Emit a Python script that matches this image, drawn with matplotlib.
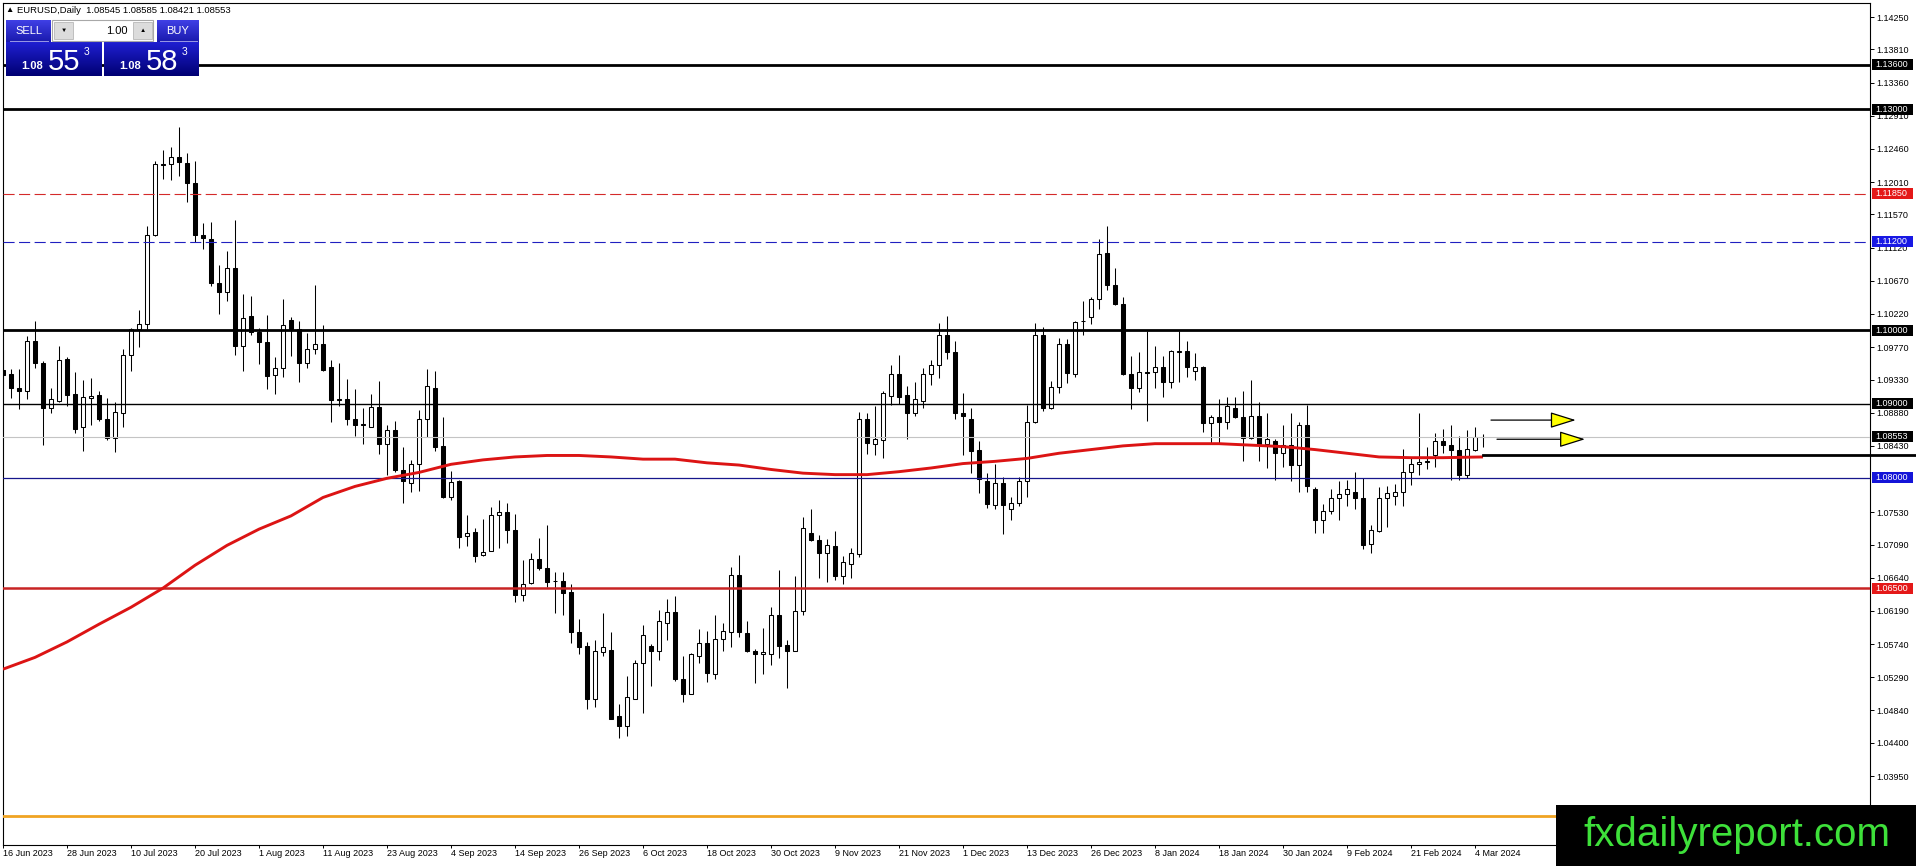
import numpy as np
import matplotlib
matplotlib.use('Agg')
from matplotlib import pyplot as plt
from matplotlib.patches import Rectangle

plt.rcParams['font.family'] = ['Liberation Sans', 'DejaVu Sans']

W, H = 1916, 866

# daily EURUSD bars, 16 Jun 2023 .. 5 Mar 2024
opens = [1.0946, 1.0940, 1.0922, 1.0917, 1.0986, 1.0956, 1.0895, 1.0904, 1.0961, 1.0913,
         1.0868, 1.0908, 1.0912, 1.0879, 1.0854, 1.0888, 1.0966, 1.1002, 1.1009, 1.1129,
         1.1225, 1.1226, 1.1235, 1.1227, 1.1200, 1.1129, 1.1124, 1.1064, 1.1052, 1.1085,
         1.0978, 1.1019, 1.0997, 1.0984, 1.0939, 1.0949, 1.1014, 1.1001, 1.0956, 1.0975,
         1.0981, 1.0950, 1.0907, 1.0907, 1.0879, 1.0873, 1.0868, 1.0896, 1.0846, 1.0864,
         1.0810, 1.0793, 1.0818, 1.0880, 1.0922, 1.0843, 1.0774, 1.0795, 1.0721, 1.0726,
         1.0695, 1.0701, 1.0749, 1.0753, 1.0729, 1.0641, 1.0657, 1.0690, 1.0677, 1.0660,
         1.0660, 1.0645, 1.0591, 1.0571, 1.0500, 1.0563, 1.0566, 1.0476, 1.0463, 1.0500,
         1.0548, 1.0571, 1.0564, 1.0603, 1.0618, 1.0526, 1.0506, 1.0558, 1.0576, 1.0533,
         1.0581, 1.0590, 1.0668, 1.0589, 1.0564, 1.0560, 1.0561, 1.0614, 1.0573, 1.0565,
         1.0619, 1.0725, 1.0715, 1.0698, 1.0707, 1.0667, 1.0683, 1.0696, 1.0879, 1.0846,
         1.0851, 1.0911, 1.0940, 1.0912, 1.0887, 1.0904, 1.0941, 1.0953, 1.0993, 1.0970,
         1.0887, 1.0880, 1.0837, 1.0796, 1.0763, 1.0792, 1.0758, 1.0765, 1.0795, 1.0875,
         1.0993, 1.0895, 1.0923, 1.0981, 1.0941, 1.1013, 1.1018, 1.1042, 1.1105, 1.1062,
         1.1036, 1.0941, 1.0921, 1.0943, 1.0943, 1.0950, 1.0930, 1.0971, 1.0972, 1.0945,
         1.0950, 1.0874, 1.0882, 1.0875, 1.0894, 1.0882, 1.0854, 1.0883, 1.0846, 1.0849,
         1.0834, 1.0844, 1.0817, 1.0871, 1.0785, 1.0743, 1.0755, 1.0772, 1.0778, 1.0781,
         1.0772, 1.0710, 1.0727, 1.0772, 1.0775, 1.0780, 1.0807, 1.0818, 1.0821, 1.0831,
         1.0849, 1.0844, 1.0838, 1.0804, 1.0837, 1.08545]
highs = [1.0972, 1.0947, 1.0947, 1.0992, 1.1012, 1.0958, 1.0921, 1.0978, 1.0963, 1.0943,
         1.0933, 1.0935, 1.0917, 1.0908, 1.0902, 1.0974, 1.1003, 1.1028, 1.1141, 1.1229,
         1.1245, 1.1249, 1.1276, 1.1241, 1.1230, 1.1146, 1.1147, 1.1088, 1.1107, 1.1150,
         1.1049, 1.1047, 1.1003, 1.1021, 1.0963, 1.1043, 1.1018, 1.1012, 1.0996, 1.1062,
         1.1007, 1.0960, 1.0955, 1.0934, 1.0920, 1.0895, 1.0914, 1.0931, 1.0872, 1.0877,
         1.0841, 1.0824, 1.0892, 1.0947, 1.0944, 1.0882, 1.0809, 1.0797, 1.0749, 1.0731,
         1.0744, 1.0760, 1.0770, 1.0766, 1.0751, 1.0688, 1.0698, 1.0718, 1.0736, 1.0672,
         1.0672, 1.0655, 1.0608, 1.0577, 1.0579, 1.0616, 1.0591, 1.0493, 1.0531, 1.0553,
         1.0600, 1.0574, 1.0620, 1.0635, 1.0639, 1.0558, 1.0562, 1.0594, 1.0592, 1.0613,
         1.0603, 1.0679, 1.0695, 1.0606, 1.0568, 1.0596, 1.0625, 1.0674, 1.0579, 1.0667,
         1.0747, 1.0757, 1.0722, 1.0717, 1.0727, 1.0693, 1.0705, 1.0889, 1.0888, 1.0897,
         1.0918, 1.0953, 1.0966, 1.0924, 1.0930, 1.0949, 1.0960, 1.1010, 1.1019, 1.0985,
         1.0915, 1.0895, 1.0850, 1.0806, 1.0818, 1.0801, 1.0773, 1.0801, 1.0898, 1.1010,
         1.1005, 1.0931, 1.0989, 1.0988, 1.1012, 1.1040, 1.1045, 1.1124, 1.1141, 1.1085,
         1.1045, 1.0965, 1.0971, 1.0999, 1.0978, 1.0965, 1.0973, 1.0999, 1.0986, 1.0969,
         1.0951, 1.0885, 1.0907, 1.0910, 1.0910, 1.0917, 1.0933, 1.0903, 1.0887, 1.0853,
         1.0872, 1.0888, 1.0876, 1.0898, 1.0787, 1.0764, 1.0785, 1.0796, 1.0797, 1.0807,
         1.0800, 1.0736, 1.0787, 1.0789, 1.0791, 1.0839, 1.0826, 1.0888, 1.0841, 1.0861,
         1.0866, 1.0871, 1.0856, 1.0864, 1.0868, 1.08585]
lows = [1.0920, 1.0908, 1.0893, 1.0906, 1.0949, 1.0844, 1.0888, 1.0903, 1.0897, 1.0861,
        1.0836, 1.0871, 1.0877, 1.0851, 1.0835, 1.0868, 1.0944, 1.0977, 1.1001, 1.1128,
        1.1205, 1.1204, 1.1209, 1.1174, 1.1119, 1.1110, 1.1060, 1.1022, 1.1039, 1.0967,
        1.0944, 1.0994, 1.0954, 1.0920, 1.0913, 1.0936, 1.0965, 1.0930, 1.0949, 1.0968,
        1.0944, 1.0876, 1.0897, 1.0871, 1.0856, 1.0846, 1.0868, 1.0832, 1.0803, 1.0807,
        1.0766, 1.0781, 1.0782, 1.0855, 1.0836, 1.0772, 1.0770, 1.0705, 1.0707, 1.0686,
        1.0694, 1.0700, 1.0705, 1.0711, 1.0631, 1.0633, 1.0655, 1.0675, 1.0651, 1.0616,
        1.0613, 1.0575, 1.0561, 1.0486, 1.0489, 1.0558, 1.0472, 1.0447, 1.0449, 1.0499,
        1.0481, 1.0517, 1.0553, 1.0579, 1.0524, 1.0495, 1.0506, 1.0548, 1.0522, 1.0527,
        1.0564, 1.0570, 1.0583, 1.0563, 1.0521, 1.0533, 1.0546, 1.0555, 1.0514, 1.0564,
        1.0614, 1.0714, 1.0664, 1.0658, 1.0661, 1.0656, 1.0664, 1.0692, 1.0832, 1.0830,
        1.0826, 1.0899, 1.0900, 1.0853, 1.0884, 1.0895, 1.0926, 1.0935, 1.0961, 1.0880,
        1.0830, 1.0806, 1.0779, 1.0759, 1.0757, 1.0724, 1.0743, 1.0761, 1.0774, 1.0874,
        1.0891, 1.0893, 1.0915, 1.0929, 1.0936, 1.0994, 1.1008, 1.1029, 1.1055, 1.1034,
        1.0939, 1.0893, 1.0916, 1.0877, 1.0921, 1.0910, 1.0922, 1.0930, 1.0937, 1.0933,
        1.0862, 1.0847, 1.0847, 1.0866, 1.0881, 1.0823, 1.0853, 1.0823, 1.0813, 1.0797,
        1.0814, 1.0796, 1.0781, 1.0781, 1.0725, 1.0725, 1.0751, 1.0743, 1.0762, 1.0758,
        1.0703, 1.0697, 1.0726, 1.0733, 1.0763, 1.0762, 1.0790, 1.0804, 1.0811, 1.0814,
        1.0834, 1.0797, 1.0797, 1.0799, 1.0836, 1.08421]
closes = [1.0939, 1.0922, 1.0917, 1.0986, 1.0956, 1.0894, 1.0906, 1.0960, 1.0912, 1.0866,
          1.0910, 1.0911, 1.0879, 1.0854, 1.0889, 1.0967, 1.1001, 1.1009, 1.1129, 1.1226,
          1.1224, 1.1235, 1.1228, 1.1200, 1.1129, 1.1125, 1.1064, 1.1052, 1.1085, 1.0978,
          1.1017, 1.0997, 1.0984, 1.0938, 1.0949, 1.1007, 1.1002, 1.0956, 1.0974, 1.0981,
          1.0946, 1.0905, 1.0905, 1.0879, 1.0871, 1.0872, 1.0896, 1.0845, 1.0864, 1.0810,
          1.0795, 1.0818, 1.0880, 1.0924, 1.0842, 1.0774, 1.0794, 1.0720, 1.0725, 1.0694,
          1.0699, 1.0749, 1.0753, 1.0729, 1.0641, 1.0656, 1.0690, 1.0677, 1.0658, 1.0659,
          1.0644, 1.0591, 1.0570, 1.0500, 1.0564, 1.0570, 1.0473, 1.0463, 1.0502, 1.0549,
          1.0586, 1.0565, 1.0605, 1.0618, 1.0526, 1.0506, 1.0560, 1.0576, 1.0535, 1.0581,
          1.0592, 1.0668, 1.0590, 1.0564, 1.0560, 1.0563, 1.0614, 1.0572, 1.0565, 1.0619,
          1.0731, 1.0715, 1.0698, 1.0708, 1.0666, 1.0685, 1.0697, 1.0879, 1.0847, 1.0852,
          1.0915, 1.0940, 1.0909, 1.0888, 1.0906, 1.0940, 1.0953, 1.0993, 1.0970, 1.0888,
          1.0883, 1.0836, 1.0798, 1.0764, 1.0793, 1.0763, 1.0765, 1.0795, 1.0875, 1.0993,
          1.0895, 1.0923, 1.0981, 1.0942, 1.1011, 1.1012, 1.1042, 1.1104, 1.1061, 1.1035,
          1.0941, 1.0921, 1.0943, 1.0942, 1.0950, 1.0930, 1.0972, 1.0972, 1.0950, 1.0950,
          1.0874, 1.0882, 1.0875, 1.0897, 1.0882, 1.0854, 1.0883, 1.0845, 1.0853, 1.0834,
          1.0844, 1.0817, 1.0871, 1.0788, 1.0743, 1.0755, 1.0772, 1.0778, 1.0785, 1.0772,
          1.0709, 1.0729, 1.0772, 1.0779, 1.0780, 1.0808, 1.0819, 1.0821, 1.0822, 1.0849,
          1.0844, 1.0838, 1.0804, 1.0839, 1.0855, 1.08553]

# moving average (red curve), sampled every few bars
ma_idx = [0, 4, 8, 12, 16, 20, 24, 28, 32, 36, 40, 44, 48, 52, 56, 60, 64, 68, 72, 76,
          80, 84, 88, 92, 96, 100, 104, 108, 112, 116, 120, 124, 128, 132, 136, 140,
          144, 148, 152, 156, 160, 164, 168, 172, 176, 180, 185]
ma_val = [1.0540, 1.0556, 1.0577, 1.0601, 1.0624, 1.0650, 1.0681, 1.0708, 1.0730, 1.0748,
          1.0773, 1.0788, 1.0799, 1.0807, 1.0818, 1.0824, 1.0828, 1.0830, 1.0830, 1.0828,
          1.0825, 1.0825, 1.0820, 1.0817, 1.0811, 1.0806, 1.0804, 1.0804, 1.0808, 1.0813,
          1.0819, 1.0822, 1.0826, 1.0833, 1.0838, 1.0843, 1.0846, 1.0846, 1.0846, 1.0844,
          1.0842, 1.0838, 1.0833, 1.0828, 1.0827, 1.0827, 1.0828]

date_labels = ['16 Jun 2023', '28 Jun 2023', '10 Jul 2023', '20 Jul 2023', '1 Aug 2023',
               '11 Aug 2023', '23 Aug 2023', '4 Sep 2023', '14 Sep 2023', '26 Sep 2023',
               '6 Oct 2023', '18 Oct 2023', '30 Oct 2023', '9 Nov 2023', '21 Nov 2023',
               '1 Dec 2023', '13 Dec 2023', '26 Dec 2023', '8 Jan 2024', '18 Jan 2024',
               '30 Jan 2024', '9 Feb 2024', '21 Feb 2024', '4 Mar 2024']
date_idx = list(range(0, 8 * len(date_labels), 8))

ytick_vals = [1.14250, 1.13810, 1.13360, 1.12910, 1.12460, 1.12010, 1.11570, 1.11120,
              1.10670, 1.10220, 1.09770, 1.09330, 1.08880, 1.08430, 1.07530, 1.07090,
              1.06640, 1.06190, 1.05740, 1.05290, 1.04840, 1.04400, 1.03950]

# horizontal levels
level_prices = [1.13600, 1.13000, 1.11850, 1.11200, 1.10000, 1.09000, 1.08553, 1.08000, 1.06500, 1.03405]
level_colors = ['black', 'black', '#d42a2a', '#2020c0', 'black', 'black', '#c4c4c4', '#16168c', '#c82424', '#f0a422']
level_widths = [2.0, 2.0, 0.8, 0.8, 2.0, 1.0, 0.8, 0.9, 1.8, 2.0]
level_dashed = [False, False, True, True, False, False, False, False, False, False]
label_bg = ['black', 'black', '#e41818', '#1818e4', 'black', 'black', 'black', '#1414d8', '#e41818', None]

support_price = 1.0831
support_from = 185

arrow_prices = [1.0878, 1.0852]
arrow_start = [186.0, 186.75]
arrow_end = [196.6, 197.75]

bid, ask = 1.08553, 1.08583

fig = plt.figure(figsize=(W / 100, H / 100), dpi=100)
fig.patch.set_facecolor('white')
ax = fig.add_axes([3 / W, 21 / H, 1867 / W, 842 / H])
ax.set_xlim(0, 1867 / 8)
ax.set_ylim(1.03014, 1.14440)

idx = np.arange(len(opens))
o = np.array(opens)
c = np.array(closes)
bull = c >= o
ax.vlines(idx, lows, highs, color='black', lw=0.75, zorder=2)
ax.bar(idx, np.maximum(np.abs(c - o), 0.00003), bottom=np.minimum(o, c), width=0.55,
       color=np.where(bull, 'white', 'black'), edgecolor='black', lw=0.75, zorder=3)

for p, col, lw, dsh in zip(level_prices, level_colors, level_widths, level_dashed):
    ax.axhline(p, color=col, lw=lw, ls=(0, (10, 4)) if dsh else '-', zorder=4)

ax.plot(ma_idx, ma_val, color='#dc1414', lw=2.1, zorder=5, solid_capstyle='butt')

for p, x0, x1 in zip(arrow_prices, arrow_start, arrow_end):
    ax.annotate('', xy=(x1, p), xytext=(x0, p), annotation_clip=False,
                arrowprops=dict(arrowstyle='-|>,head_length=0.8,head_width=0.25',
                                fc='yellow', ec='black', lw=0.9, mutation_scale=20,
                                shrinkA=0, shrinkB=0), zorder=6)

ax.yaxis.tick_right()
ax.set_yticks(ytick_vals, [f'{v:.5f}' for v in ytick_vals])
ax.set_xticks(date_idx, date_labels)
for t in ax.get_xticklabels():
    t.set_ha('left')
ax.tick_params(axis='y', direction='out', length=2.9, width=0.7, pad=1.5, labelsize=6.5)
ax.tick_params(axis='x', direction='out', length=2.2, width=0.7, pad=1.0, labelsize=6.5)
for s in ax.spines.values():
    s.set_color('black')
    s.set_linewidth(0.8)

# overlay in pixel coordinates for the terminal decorations
ov = fig.add_axes([0, 0, 1, 1], zorder=5)
ov.patch.set_alpha(0)
ov.axis('off')


def to_px(x, p):
    dx, dy = ax.transData.transform((x, p))
    return dx, H - dy


# level price tags on the scale
for p, bg in zip(level_prices, label_bg):
    if bg is None:
        continue
    _, py = to_px(0, p)
    ov.add_patch(Rectangle((1872, py - 5.5), 41, 11, fc=bg, ec='none', zorder=3))
    ov.text(1875.5, py, f'{p:.5f}', color='white', fontsize=6.5, va='center', ha='left', zorder=4)

# support line running through the price scale
sx, sy = to_px(support_from, support_price)
ov.plot([sx, W], [sy, sy], color='black', lw=2.0, zorder=2)


def grad_box(x0, y0, x1, y1, top, bottom):
    t = np.linspace(0, 1, 40)[:, None, None]
    img = (1 - t) * np.array(top) + t * np.array(bottom)
    ov.imshow(img, extent=(x0, x1, y1, y0), aspect='auto', interpolation='bilinear', zorder=2)


tab_top, tab_bot = (0.25, 0.25, 0.90), (0.10, 0.10, 0.68)
box_top, box_bot = (0.12, 0.12, 0.82), (0.0, 0.0, 0.45)
grad_box(6, 20, 51, 42, tab_top, tab_bot)
grad_box(157, 20, 199, 42, tab_top, tab_bot)
grad_box(6, 42, 102, 76, box_top, box_bot)
grad_box(104, 42, 199, 76, box_top, box_bot)
ov.add_patch(Rectangle((52, 20), 101, 21, fc='white', ec='#a8a8a8', lw=0.8, zorder=3))
ov.add_patch(Rectangle((54, 22), 19, 17, fc='#dcdcdc', ec='#b8b8b8', lw=0.6, zorder=4))
ov.add_patch(Rectangle((133, 22), 19, 17, fc='#dcdcdc', ec='#b8b8b8', lw=0.6, zorder=4))
ov.text(63.5, 30.5, '▼', fontsize=4.5, ha='center', va='center', zorder=5)
ov.text(142.5, 30.5, '▲', fontsize=4.5, ha='center', va='center', zorder=5)
ov.text(128, 30.5, '1.00', fontsize=8, ha='right', va='center', zorder=5)
ov.plot([10, 48], [41.3, 41.3], color='#9a9ae6', lw=0.7, zorder=4)
ov.plot([160, 197], [41.3, 41.3], color='#9a9ae6', lw=0.7, zorder=4)
ov.text(28.5, 31, 'SELL', color='white', fontsize=8, ha='center', va='center', zorder=5)
ov.text(178, 31, 'BUY', color='white', fontsize=8, ha='center', va='center', zorder=5)
for x0, price in [(6, bid), (104, ask)]:
    s = f'{price:.5f}'
    ov.text(x0 + 26, 66, s[:4], color='white', fontsize=8, fontweight='bold',
            ha='center', va='center', zorder=5)
    ov.text(x0 + 58.5, 61.5, s[4:6], color='white', fontsize=21, ha='center', va='center', zorder=5)
    ov.text(x0 + 80.5, 52, s[6], color='white', fontsize=7.5, ha='center', va='center', zorder=5)

ov.text(5.5, 10.5, '▲', fontsize=6, ha='left', va='center', zorder=5)
ov.text(17, 10.5, f'EURUSD,Daily  {opens[-1]:.5f} {highs[-1]:.5f} {lows[-1]:.5f} {closes[-1]:.5f}',
        fontsize=6.8, ha='left', va='center', zorder=5)

# watermark
ov.add_patch(Rectangle((1556, 805), W - 1556, H - 805, fc='black', ec='none', zorder=6))
ov.text(1737, 835, 'fxdailyreport.com', color='#3ee03a', fontsize=29, ha='center', va='center', zorder=7)

ov.set_xlim(0, W)
ov.set_ylim(H, 0)

fig.savefig('out.png', dpi=100)
